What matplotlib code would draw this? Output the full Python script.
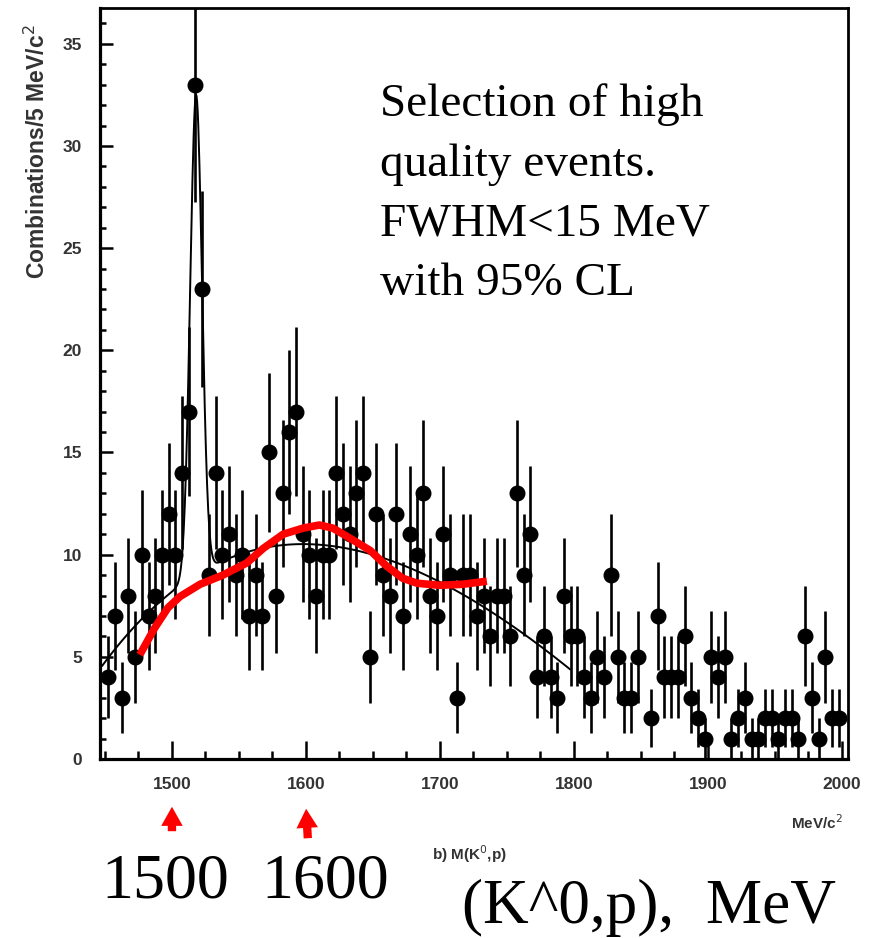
import numpy as np
import matplotlib
matplotlib.use('Agg')
import matplotlib.pyplot as plt
from matplotlib.ticker import MultipleLocator
from matplotlib.patches import FancyArrowPatch
import matplotlib.transforms as mtransforms

# ---------------- data ----------------
bin_start = 1450.0          # MeV, lower edge of first bin
bin_width = 5.0             # MeV per bin
counts = [4, 7, 3, 8, 5, 10, 7, 8, 10, 12,
          10, 14, 17, 33, 23, 9, 14, 10, 11, 9,
          10, 7, 9, 7, 15, 8, 13, 16, 17, 11,
          10, 8, 10, 10, 14, 12, 11, 13, 14, 5,
          12, 9, 8, 12, 7, 11, 10, 13, 8, 7,
          11, 9, 3, 9, 9, 7, 8, 6, 8, 8,
          6, 13, 9, 11, 4, 6, 4, 3, 8, 6,
          6, 4, 3, 5, 4, 9, 5, 3, 3, 5,
          0, 2, 7, 4, 4, 4, 6, 3, 2, 1,
          5, 4, 5, 1, 2, 3, 1, 1, 2, 2,
          1, 2, 2, 1, 6, 3, 1, 5, 2, 2]

# fitted curve (gaussian peak on smooth background)
peak_mean = 1518.0
peak_sigma = 4.4
peak_amp = 23.5
bg_mass = [1449, 1460, 1480, 1495, 1530, 1560, 1600, 1625, 1665, 1715, 1752, 1797]
bg_level = [4.5, 5.8, 7.0, 7.9, 9.4, 10.2, 10.5, 10.4, 9.7, 8.1, 6.6, 4.4]
fit_lo, fit_hi = 1448.0, 1797.0

# hand-drawn red curve
red_mass = [1476, 1487, 1497, 1506, 1521, 1538, 1556, 1568, 1583, 1598, 1610,
            1620, 1633, 1648, 1660, 1672, 1683, 1700, 1717, 1735]
red_level = [5.1, 6.4, 7.4, 7.95, 8.55, 9.0, 9.6, 10.3, 11.0, 11.3, 11.45,
             11.3, 10.8, 10.2, 9.45, 8.85, 8.6, 8.5, 8.55, 8.7]

# labels
y_label = 'Combinations/5 MeV/c$^2$'
x_label = 'b) M(K$^0$,p)'
x_unit = 'MeV/c$^2$'
note_lines = ['Selection of high', 'quality events.', 'FWHM<15 MeV', 'with 95% CL']
arrow_marks = [1500, 1600]
arrow_texts = ['1500', '1600']
big_axis_text = '(K^0,p),  MeV'

# ---------------- drawing ----------------
W, H = 875, 938
fig = plt.figure(figsize=(W / 100, H / 100), dpi=100)
ax = fig.add_axes([100 / W, (H - 759) / H, 748 / W, 751 / H])

counts_arr = np.array(counts, dtype=float)
centers = bin_start + bin_width * (np.arange(len(counts_arr)) + 0.5)
mask = counts_arr > 0
ax.errorbar(centers[mask], counts_arr[mask], yerr=np.sqrt(counts_arr[mask]),
            fmt='o', color='black', ms=10.5, elinewidth=1.9, capsize=0, zorder=3)

# fit curve
xn = lambda m: (np.asarray(m, dtype=float) - 1620.0) / 200.0
coef = np.polyfit(xn(bg_mass), bg_level, 4)
mm = np.linspace(fit_lo, fit_hi, 800)
fit = np.polyval(coef, xn(mm)) + peak_amp * np.exp(-0.5 * ((mm - peak_mean) / peak_sigma) ** 2)
ax.plot(mm, fit, color='black', lw=1.4, zorder=4)

# red curve
ax.plot(red_mass, red_level, color='#ff0000', lw=5.5, solid_capstyle='butt',
        solid_joinstyle='round', zorder=5)

ax.set_xlim(1446.3, 2004.5)
ax.set_ylim(0, 36.75)

ax.xaxis.set_major_locator(MultipleLocator(100))
ax.xaxis.set_minor_locator(MultipleLocator(25))
ax.yaxis.set_major_locator(MultipleLocator(5))
ax.yaxis.set_minor_locator(MultipleLocator(1))
ax.tick_params(axis='both', which='both', direction='in', top=False, right=False,
               colors='black', width=1.8)
ax.tick_params(axis='x', which='major', length=13, pad=13)
ax.tick_params(axis='x', which='minor', length=6)
ax.tick_params(axis='y', which='major', length=9.5, pad=13)
ax.tick_params(axis='y', which='minor', length=4.5)
for lab in ax.get_xticklabels() + ax.get_yticklabels():
    lab.set_fontfamily('Liberation Sans')
    lab.set_fontweight('bold')
    lab.set_fontsize(12.5)
    lab.set_color('#333333')
for s in ax.spines.values():
    s.set_linewidth(2.0)
    s.set_color('black')
ax.spines['left'].set_linewidth(2.3)
ax.spines['bottom'].set_linewidth(2.3)

# y label
fig.text(37 / W, 1 - 152 / H, y_label, rotation=90, ha='center', va='center',
         fontsize=16.5, fontweight='bold', family='Liberation Sans', color='#333333')
# x label and unit
fig.text(432 / W, 1 - 854 / H, x_label, ha='left', va='center',
         fontsize=11, fontweight='bold', family='Liberation Sans', color='#333333')
fig.text(843 / W, 1 - 823 / H, x_unit, ha='right', va='center',
         fontsize=11, fontweight='bold', family='Liberation Sans', color='#333333')

# annotation text
base_y = [116, 176, 236, 295]
for line, by in zip(note_lines, base_y):
    fig.text(380 / W, 1 - by / H, line, ha='left', va='baseline',
             fontsize=34, family='Liberation Serif', color='black')

# red arrows and big labels below the axis
trans = mtransforms.blended_transform_factory(ax.transData, fig.transFigure)
arrow_tail = [834, 841]
arrow_tip = [804, 806]
arrow_dx = [0, 1.5]
for xm, t0, t1, dx in zip(arrow_marks, arrow_tail, arrow_tip, arrow_dx):
    arr = FancyArrowPatch((xm + dx, 1 - t0 / H), (xm, 1 - t1 / H), transform=trans,
                          arrowstyle='simple,head_width=0.62,head_length=0.55,tail_width=0.24',
                          mutation_scale=25, color='#ff0000', lw=0, clip_on=False)
    fig.patches.append(arr)

text_centers = [165, 325]
for txt, cx in zip(arrow_texts, text_centers):
    fig.text(cx / W, 1 - 897 / H, txt, ha='center', va='baseline',
             fontsize=46, family='Liberation Serif', color='black')
fig.text(462 / W, 1 - 923 / H, big_axis_text, ha='left', va='baseline',
         fontsize=45.5, family='Liberation Serif', color='black')

fig.savefig('out.png', dpi=100)
